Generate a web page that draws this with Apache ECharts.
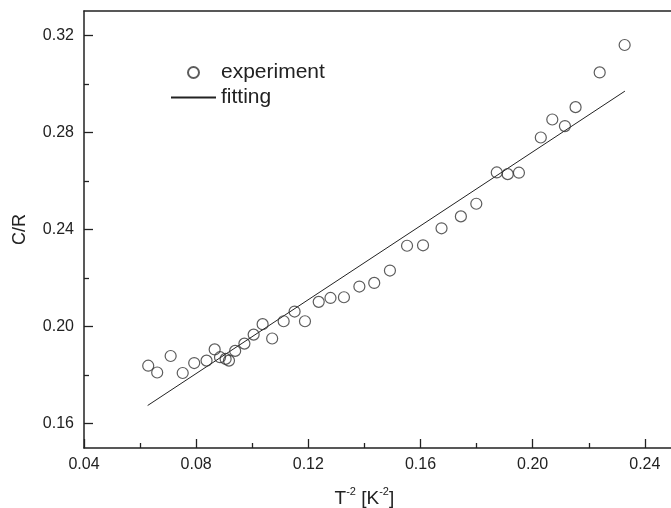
<!DOCTYPE html>
<html><head><meta charset="utf-8">
<script src="https://cdn.jsdelivr.net/npm/echarts@6/dist/echarts.min.js"></script>
<style>html,body{margin:0;padding:0;background:#fff}#c{width:671px;height:508px}</style>
</head><body><div id="c"></div>
<script>
// experiment data (T^-2, C/R)
const expX = [0.0629, 0.0661, 0.0709, 0.0752, 0.0793, 0.0837, 0.0866, 0.0885, 0.0905, 0.0917,
              0.0939, 0.0972, 0.1005, 0.1037, 0.1071, 0.1112, 0.1151, 0.1188, 0.1237, 0.1279,
              0.1327, 0.1382, 0.1435, 0.1491, 0.1552, 0.1609, 0.1675, 0.1744, 0.1799, 0.1872,
              0.1911, 0.1951, 0.2029, 0.2070, 0.2115, 0.2153, 0.2239, 0.2328];
const expY = [0.1839, 0.1811, 0.1879, 0.1809, 0.1850, 0.1860, 0.1906, 0.1874, 0.1867, 0.1860,
              0.1900, 0.1930, 0.1967, 0.2010, 0.1951, 0.2022, 0.2062, 0.2022, 0.2102, 0.2118,
              0.2121, 0.2165, 0.2180, 0.2231, 0.2333, 0.2335, 0.2405, 0.2454, 0.2506, 0.2635,
              0.2628, 0.2634, 0.2779, 0.2853, 0.2826, 0.2904, 0.3047, 0.3160];
// fitting line end points
const fitX = [0.0627, 0.2329];
const fitY = [0.1675, 0.2970];
// axis ticks
const xMin = 0.04, xMax = 0.28, xStep = 0.04;
const yMajorTicks = [0.16, 0.20, 0.24, 0.28, 0.32];
const yMinorTicks = [0.18, 0.22, 0.26, 0.30];
const yMin = 0.15, yMax = 0.33;

const FONT = 'Liberation Sans, Arial, sans-serif';
const INK = '#222';

const chart = echarts.init(document.getElementById('c'), null, {renderer: 'canvas'});
const gridBox = {left: 84, top: 11, width: 673, height: 437, outerBoundsMode: 'none', containLabel: false};
chart.setOption({
  animation: false,
  backgroundColor: '#fff',
  grid: [Object.assign({}, gridBox), Object.assign({}, gridBox)],
  legend: {
    orient: 'vertical', left: 170, top: 62, padding: 0,
    itemWidth: 45, itemHeight: 11, itemGap: 4,
    textStyle: {fontFamily: FONT, fontSize: 21, lineHeight: 21, color: INK},
    data: [
      {name: 'experiment'},
      {name: 'fitting', itemStyle: {color: 'rgba(0,0,0,0)', borderWidth: 0, opacity: 0}}
    ]
  },
  xAxis: [
    {
      type: 'value', gridIndex: 0, position: 'bottom', min: xMin, max: xMax, interval: xStep,
      axisLine: {lineStyle: {color: INK, width: 1.5}},
      axisTick: {inside: true, length: 9, lineStyle: {color: INK, width: 1.3}},
      minorTick: {show: true, splitNumber: 2, length: 5, lineStyle: {color: INK, width: 1.3}},
      splitLine: {show: false},
      axisLabel: {margin: 9, fontFamily: FONT, fontSize: 16, color: INK, formatter: v => v.toFixed(2)},
      name: '{n|T}{s|-2}{n| [K}{s|-2}{n|]}',
      nameLocation: 'middle', nameGap: 38,
      nameTextStyle: {
        rich: {
          n: {fontFamily: FONT, fontSize: 19, color: INK, lineHeight: 22, verticalAlign: 'bottom'},
          s: {fontFamily: FONT, fontSize: 11, color: INK, lineHeight: 22, verticalAlign: 'top'}
        }
      }
    },
    {
      type: 'value', gridIndex: 0, position: 'top', min: xMin, max: xMax, interval: xStep,
      axisLine: {lineStyle: {color: INK, width: 1.5}},
      axisTick: {show: false}, axisLabel: {show: false}, splitLine: {show: false}
    },
    {
      type: 'value', gridIndex: 1, min: xMin, max: xMax, interval: xStep, show: false
    }
  ],
  yAxis: [
    {
      type: 'value', gridIndex: 0, position: 'left', min: yMin, max: yMax,
      axisLine: {lineStyle: {color: INK, width: 1.5}},
      axisTick: {inside: true, length: 9, customValues: yMajorTicks, lineStyle: {color: INK, width: 1.3}},
      axisLabel: {margin: 10, customValues: yMajorTicks, fontFamily: FONT, fontSize: 16, color: INK,
                  formatter: v => v.toFixed(2)},
      splitLine: {show: false},
      name: 'C/R', nameLocation: 'middle', nameGap: 55,
      nameTextStyle: {fontFamily: FONT, fontSize: 18, color: INK}
    },
    {
      type: 'value', gridIndex: 1, position: 'left', min: yMin, max: yMax,
      axisLine: {show: false},
      axisTick: {inside: true, length: 5, customValues: yMinorTicks, lineStyle: {color: INK, width: 1.3}},
      axisLabel: {show: false},
      splitLine: {show: false}
    }
  ],
  series: [
    {
      name: 'experiment', type: 'scatter', xAxisIndex: 0, yAxisIndex: 0,
      symbol: 'circle', symbolSize: 11,
      itemStyle: {color: 'rgba(255,255,255,0)', borderColor: '#333', borderWidth: 1.2},
      data: expX.map((x, i) => [x, expY[i]]),
      z: 3
    },
    {
      name: 'fitting', type: 'line', xAxisIndex: 0, yAxisIndex: 0,
      symbol: 'none', showSymbol: false,
      lineStyle: {color: INK, width: 1},
      itemStyle: {color: INK},
      data: fitX.map((x, i) => [x, fitY[i]]),
      z: 2
    }
  ]
});
// centre the x-axis title under the labelled range (0.04 – 0.24) instead of the whole clipped axis
const labelledCenter = chart.convertToPixel({xAxisIndex: 0}, 0.14);
const axisCenter = chart.convertToPixel({xAxisIndex: 0}, (xMin + xMax) / 2);
chart.setOption({xAxis: [{nameTextStyle: {padding: [0, Math.max(0, 2 * (axisCenter - labelledCenter)), 0, 0]}}]});
</script>
</body></html>
